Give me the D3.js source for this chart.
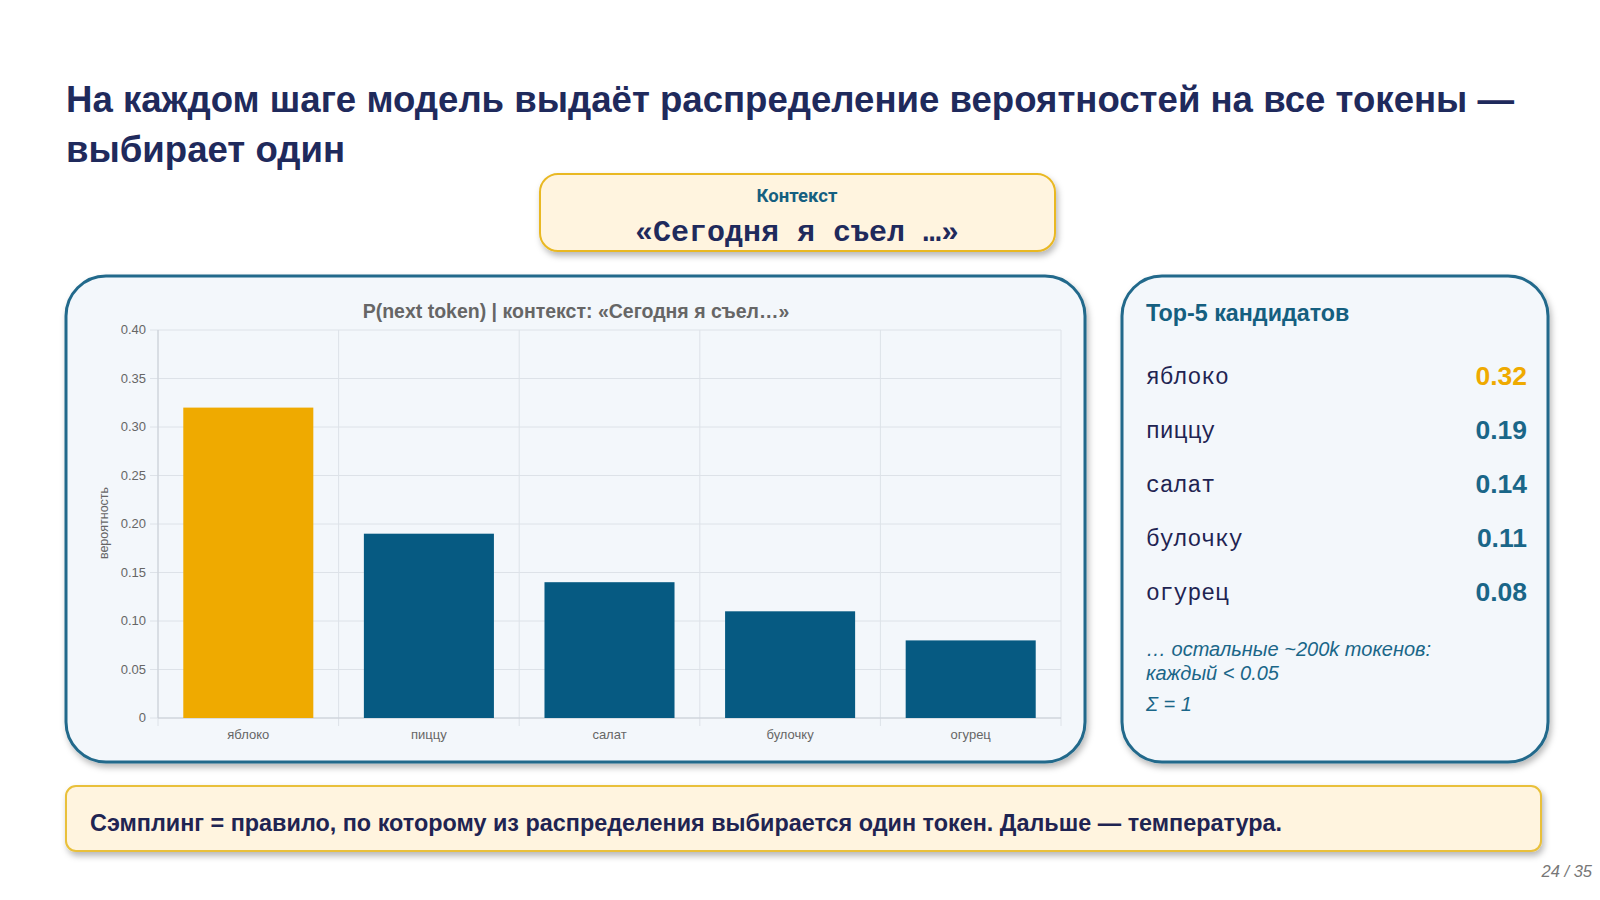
<!DOCTYPE html>
<html><head><meta charset="utf-8">
<script src="https://cdn.jsdelivr.net/npm/d3@7"></script>
<style>html,body{margin:0;padding:0;background:#fff;}svg{display:block;}</style>
</head><body>
<svg id="c" width="1600" height="900"></svg>
<script>
const tokens = ["яблоко","пиццу","салат","булочку","огурец"];
const probs = [0.32,0.19,0.14,0.11,0.08];
const yTicks = [0,0.05,0.10,0.15,0.20,0.25,0.30,0.35,0.40];
const yTickLabels = ["0","0.05","0.10","0.15","0.20","0.25","0.30","0.35","0.40"];
const titleLines = ["На каждом шаге модель выдаёт распределение вероятностей на все токены —","выбирает один"];
const chartTitle = "P(next token) | контекст: «Сегодня я съел…»";
const noteLines = ["… остальные ~200k токенов:","каждый < 0.05"];

const svg = d3.select("#c");
const defs = svg.append("defs");
const f = defs.append("filter").attr("id","sh").attr("x","-10%").attr("y","-10%").attr("width","120%").attr("height","130%");
f.append("feDropShadow").attr("dx",2).attr("dy",4).attr("stdDeviation",3).attr("flood-color","#000").attr("flood-opacity",0.28);

const navy="#1f2a5c", teal="#155f80", gold="#efaa00", bar="#065a82";
const sans="Liberation Sans, Arial, sans-serif";

// title
svg.append("g").selectAll("text").data(titleLines).join("text")
  .attr("x",66).attr("y",(d,i)=>112+i*50)
  .attr("font-family",sans).attr("font-weight","bold")
  .attr("font-size",36.6).attr("fill",navy).text(d=>d);

// context box
svg.append("rect").attr("x",540).attr("y",174).attr("width",515).attr("height",77).attr("rx",18)
  .attr("fill","#fff4df").attr("stroke","#e9b824").attr("stroke-width",2).attr("filter","url(#sh)");
svg.append("text").attr("x",797).attr("y",202).attr("text-anchor","middle")
  .attr("font-family","Roboto, sans-serif").attr("font-weight","bold").attr("font-size",18.5).attr("fill",teal).text("Контекст");
svg.append("text").attr("x",797).attr("y",241).attr("text-anchor","middle")
  .attr("font-family","Liberation Mono, monospace").attr("font-weight","bold").attr("font-size",30).attr("fill",navy).text("«Сегодня я съел …»");

// panels
svg.append("rect").attr("x",66).attr("y",276).attr("width",1019).attr("height",486).attr("rx",40)
  .attr("fill","#f3f7fb").attr("stroke","#21698b").attr("stroke-width",3).attr("filter","url(#sh)");
svg.append("rect").attr("x",1122).attr("y",276).attr("width",426).attr("height",486).attr("rx",40)
  .attr("fill","#f3f7fb").attr("stroke","#21698b").attr("stroke-width",3).attr("filter","url(#sh)");

// chart
const L=158,R=1061,T=330,B=718;
const x=d3.scaleBand().domain(tokens).range([L,R]).paddingInner(0.28).paddingOuter(0.14);
const y=d3.scaleLinear().domain([0,0.40]).range([B,T]);
const g=svg.append("g");
const bounds=tokens.map((t,i)=>L+i*x.step()).concat([R]);
g.selectAll("line.v").data(bounds).join("line").attr("class","v")
  .attr("x1",d=>d).attr("x2",d=>d).attr("y1",T).attr("y2",B+8).attr("stroke","#dde2e8").attr("stroke-width",1);
g.selectAll("line.h").data(yTicks).join("line").attr("class","h")
  .attr("x1",L-8).attr("x2",R).attr("y1",d=>y(d)).attr("y2",d=>y(d)).attr("stroke","#dde2e8").attr("stroke-width",1);
g.append("line").attr("x1",L).attr("x2",R).attr("y1",B).attr("y2",B).attr("stroke","#c9ced6");
g.append("line").attr("x1",L).attr("x2",L).attr("y1",T).attr("y2",B).attr("stroke","#c9ced6");
g.selectAll("rect.b").data(tokens).join("rect").attr("class","b")
  .attr("x",d=>x(d)).attr("width",x.bandwidth())
  .attr("y",(d,i)=>y(probs[i])).attr("height",(d,i)=>B-y(probs[i]))
  .attr("fill",(d,i)=>i===0?gold:bar);
g.selectAll("text.yt").data(yTicks).join("text").attr("class","yt")
  .attr("x",L-12).attr("y",d=>y(d)+4).attr("text-anchor","end")
  .attr("font-family",sans).attr("font-size",13).attr("fill","#666")
  .text((d,i)=>yTickLabels[i]);
g.selectAll("text.xt").data(tokens).join("text").attr("class","xt")
  .attr("x",d=>x(d)+x.bandwidth()/2).attr("y",739).attr("text-anchor","middle")
  .attr("font-family",sans).attr("font-size",13).attr("fill","#666").text(d=>d);
g.append("text").attr("transform","translate(108,523) rotate(-90)").attr("text-anchor","middle")
  .attr("font-family",sans).attr("font-size",12.5).attr("fill","#666").text("вероятность");
g.append("text").attr("x",576).attr("y",318).attr("text-anchor","middle")
  .attr("font-family",sans).attr("font-weight","bold").attr("font-size",19.5).attr("fill","#666").text(chartTitle);

// right panel
svg.append("text").attr("x",1146).attr("y",321)
  .attr("font-family",sans).attr("font-weight","bold").attr("font-size",23.3).attr("fill",teal).text("Top-5 кандидатов");
const rows=svg.append("g");
rows.selectAll("text.t").data(tokens).join("text").attr("class","t")
  .attr("x",1146).attr("y",(d,i)=>384+i*54)
  .attr("font-family","Liberation Mono, monospace").attr("font-size",23).attr("fill","#1f2452").text(d=>d);
rows.selectAll("text.p").data(probs).join("text").attr("class","p")
  .attr("x",1527).attr("y",(d,i)=>385+i*54).attr("text-anchor","end")
  .attr("font-family",sans).attr("font-weight","bold").attr("font-size",26.5)
  .attr("fill",(d,i)=>i===0?gold:"#1a6688").text(d=>d.toFixed(2));
svg.selectAll("text.n").data(noteLines).join("text").attr("class","n")
  .attr("x",1146).attr("y",(d,i)=>656+i*24)
  .attr("font-family",sans).attr("font-style","italic").attr("font-size",20).attr("fill","#1a6688").text(d=>d);
svg.append("text").attr("x",1146).attr("y",711)
  .attr("font-family",sans).attr("font-style","italic").attr("font-size",20).attr("fill","#1a6688").text("Σ = 1");

// bottom box
svg.append("rect").attr("x",66).attr("y",786).attr("width",1475).attr("height",65).attr("rx",10)
  .attr("fill","#fff4df").attr("stroke","#e9c03a").attr("stroke-width",2).attr("filter","url(#sh)");
svg.append("text").attr("x",90).attr("y",831)
  .attr("font-family",sans).attr("font-weight","bold").attr("font-size",23.4).attr("fill","#1f2452")
  .text("Сэмплинг = правило, по которому из распределения выбирается один токен. Дальше — температура.");

svg.append("text").attr("x",1592).attr("y",877).attr("text-anchor","end")
  .attr("font-family",sans).attr("font-style","italic").attr("font-size",16.5).attr("fill","#777").text("24 / 35");
</script>
</body></html>
